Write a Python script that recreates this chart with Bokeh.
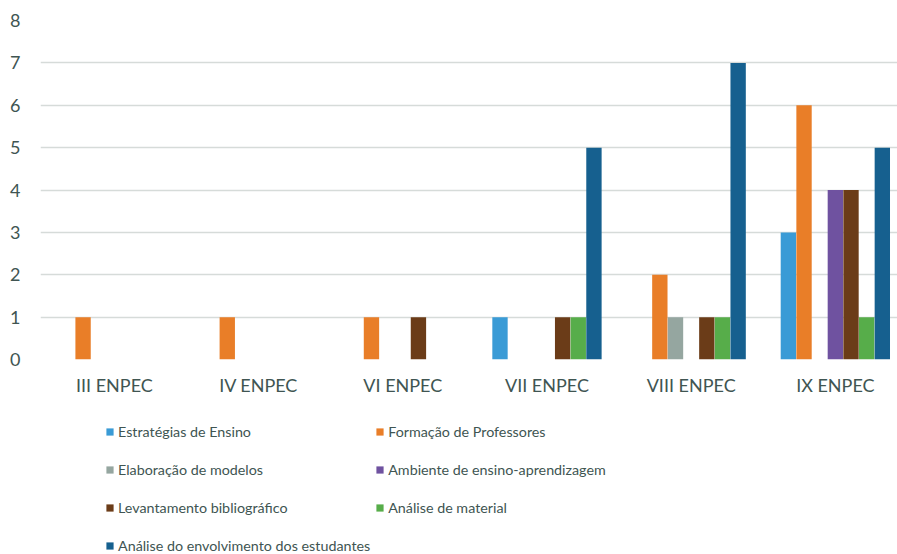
from bokeh.plotting import figure
from bokeh.layouts import column
from bokeh.models import ColumnDataSource, Range1d, FixedTicker, Legend, LegendItem
from bokeh.embed import file_html
from bokeh.resources import INLINE

categories = ["III ENPEC", "IV ENPEC", "VI ENPEC", "VII ENPEC", "VIII ENPEC", "IX ENPEC"]
series_names = [
    "Estratégias de Ensino",
    "Formação de Professores",
    "Elaboração de modelos",
    "Ambiente de ensino-aprendizagem",
    "Levantamento bibliográfico",
    "Análise de material",
    "Análise do envolvimento dos estudantes",
]
estrategias = [0, 0, 0, 1, 0, 3]
formacao = [1, 1, 1, 0, 2, 6]
elaboracao = [0, 0, 0, 0, 1, 0]
ambiente = [0, 0, 0, 0, 0, 4]
levantamento = [0, 0, 1, 1, 1, 4]
analise_material = [0, 0, 0, 1, 1, 1]
envolvimento = [0, 0, 0, 5, 7, 5]
y_ticks = [0, 1, 2, 3, 4, 5, 6, 7, 8]

series_values = [estrategias, formacao, elaboracao, ambiente, levantamento, analise_material, envolvimento]
colors = ["#3a9bd6", "#e97e28", "#95a6a0", "#6f52a0", "#6b3c18", "#57ad4a", "#16608f"]

FONT = "Lato"
TXT = "#405552"

p = figure(width=897, height=400, output_backend="svg", toolbar_location=None,
           x_range=Range1d(-0.5125, 5.431), y_range=Range1d(0, 8),
           min_border_left=40, min_border_top=20, min_border_right=0,
           min_border_bottom=41)
p.outline_line_color = None
p.background_fill_color = "white"
p.border_fill_color = "white"

bw = 0.1086
n = len(series_names)
for i, (name, vals, col) in enumerate(zip(series_names, series_values, colors)):
    xs = [k + (i - (n - 1) / 2) * bw for k in range(len(categories))]
    src = ColumnDataSource(dict(x=xs, top=vals))
    p.vbar(x="x", top="top", bottom=0, width=bw * 0.98, source=src,
           fill_color=col, line_color=None)

p.xaxis.ticker = FixedTicker(ticks=list(range(len(categories))))
p.xaxis.major_label_overrides = {k: c for k, c in enumerate(categories)}
p.yaxis.ticker = FixedTicker(ticks=y_ticks)
for ax in (p.xaxis, p.yaxis):
    ax.axis_line_color = None
    ax.major_tick_line_color = None
    ax.minor_tick_line_color = None
    ax.major_tick_out = 0
    ax.major_tick_in = 0
    ax.minor_tick_out = 0
    ax.minor_tick_in = 0
    ax.major_label_text_font = FONT
    ax.major_label_text_color = TXT
    ax.major_label_text_font_size = "18px"
p.xaxis.major_label_standoff = 14
p.yaxis.major_label_standoff = 20
p.xgrid.grid_line_color = None
p.ygrid.grid_line_color = "#d6dbd9"
p.ygrid.grid_line_width = 1.5

# legend panel
lf = figure(width=897, height=154, output_backend="svg", toolbar_location=None,
            x_range=Range1d(0, 1), y_range=Range1d(0, 1),
            x_axis_location=None, y_axis_location=None,
            min_border_left=0, min_border_right=0, min_border_top=0, min_border_bottom=0)
lf.outline_line_color = None
lf.xgrid.visible = False
lf.ygrid.visible = False
nan = float("nan")
items = []
for name, col in zip(series_names, colors):
    r = lf.vbar(x=[nan], top=[nan], width=0.1, fill_color=col, line_color=None)
    items.append(LegendItem(label=name, renderers=[r]))
legend = Legend(items=items, ncols=2, orientation="horizontal", location=(65, -8),
                label_text_font=FONT, label_text_color=TXT, label_text_font_size="14.3px",
                glyph_width=9, glyph_height=9, label_standoff=4, spacing=5,
                label_height=33, padding=0, margin=0, border_line_color=None,
                background_fill_alpha=0)
lf.add_layout(legend, "center")

open("out.html", "w").write(file_html(column(p, lf), INLINE))
